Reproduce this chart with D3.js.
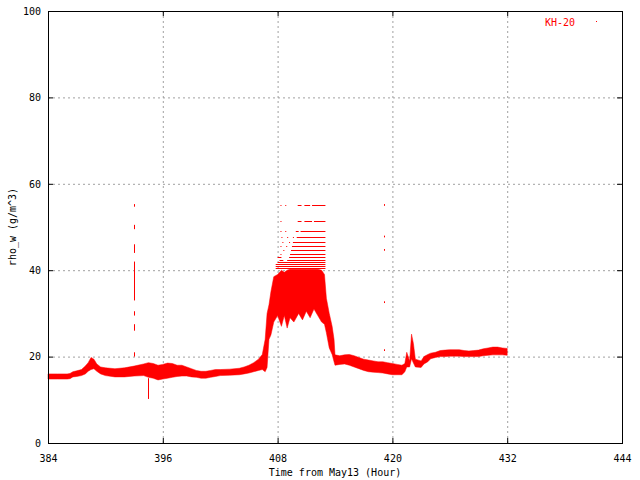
<!DOCTYPE html>
<html>
<head>
<meta charset="utf-8">
<script src="https://cdn.jsdelivr.net/npm/d3@7"></script>
<style>
  body { margin: 0; background: #fff; }
  text { font-family: "DejaVu Sans Mono", monospace; font-size: 10px; }
</style>
</head>
<body>
<div class="container"></div>
<script>
// KH-20 water vapour density
var bandTime = [384.0, 385.0, 386.0, 386.3, 386.6, 387.0, 387.5, 387.9, 388.2, 388.5, 388.8, 389.1, 389.5,
  390.0, 391.0, 392.0, 393.0, 394.0, 394.5, 395.0, 395.5, 396.0, 396.5, 397.0, 397.5, 398.0, 398.5,
  399.0, 399.5, 400.0, 400.5, 401.0, 401.5, 402.0, 403.0, 404.0, 404.5, 405.0, 405.5, 406.0, 406.4,
  406.7, 406.9, 407.1, 407.3, 407.6, 408.0, 408.4, 408.7, 409.0, 409.3, 409.7, 410.2, 410.6, 411.0,
  411.4, 411.8, 412.2, 412.6, 412.9, 413.1, 413.4, 413.7, 413.9, 414.0, 414.5, 415.0, 415.5, 416.0,
  416.5, 417.0, 417.5, 418.0, 418.5, 419.0, 419.5, 420.0, 420.5, 421.0, 421.3, 421.5, 421.8, 422.0,
  422.2, 422.4, 423.0, 423.3, 423.7, 424.0, 424.5, 425.0, 425.5, 426.0, 427.0, 427.5, 428.0, 428.5,
  429.0, 429.5, 430.0, 430.5, 431.0, 431.5, 432.0];
var bandLow = [14.8, 14.8, 14.8, 14.9, 15.3, 15.4, 15.6, 16.0, 16.6, 17.0, 17.2, 16.6, 16.0,
  15.6, 15.3, 15.3, 15.5, 15.6, 15.2, 15.0, 14.6, 14.8, 15.0, 15.2, 15.4, 15.5, 15.5,
  15.3, 15.2, 15.0, 15.0, 15.2, 15.4, 15.6, 15.7, 15.8, 16.0, 16.2, 16.5, 16.8, 17.0,
  16.5, 17.5, 24.0, 25.0, 28.0, 29.5, 27.0, 29.5, 26.6, 29.0, 28.0, 30.0, 28.5, 30.5,
  29.0, 31.0, 29.5, 28.0, 27.5, 25.5, 22.0, 20.5, 18.8, 18.0, 18.2, 18.3, 18.0, 17.6,
  17.2, 16.8, 16.5, 16.4, 16.3, 16.2, 16.0, 15.8, 15.8, 15.8, 16.5, 17.6, 17.6, 19.5,
  18.5, 17.6, 17.5, 18.3, 18.8, 19.5, 19.8, 20.0, 20.0, 20.1, 20.1, 20.0, 20.0, 20.0,
  20.0, 20.2, 20.3, 20.4, 20.4, 20.4, 20.3];
var bandHigh = [16.0, 16.0, 16.0, 16.1, 16.5, 16.7, 17.0, 17.8, 18.6, 19.8, 19.4, 18.3, 17.6,
  17.4, 17.2, 17.4, 17.8, 18.3, 18.6, 18.4, 18.0, 18.2, 18.5, 18.4, 18.0, 18.0, 17.6,
  17.2, 16.8, 16.6, 16.6, 16.8, 17.0, 17.0, 17.1, 17.3, 17.6, 18.0, 18.6, 19.4, 20.5,
  24.0, 30.0, 32.0, 35.0, 38.5, 39.0, 40.0, 39.5, 40.0, 40.2, 40.2, 40.2, 40.2, 40.2,
  40.2, 40.2, 40.2, 40.0, 39.0, 33.5, 30.0, 27.0, 24.0, 20.4, 20.2, 20.4, 20.5, 20.2,
  19.8, 19.4, 19.2, 19.0, 18.8, 18.8, 18.6, 18.4, 18.2, 18.0, 18.4, 21.0, 19.0, 25.2,
  23.0, 19.4, 19.0, 20.0, 20.5, 20.8, 21.0, 21.4, 21.5, 21.6, 21.6, 21.4, 21.3, 21.4,
  21.5, 21.8, 22.0, 22.2, 22.2, 22.0, 21.9];

// quantised outliers during the 408-413 h event (level, from, to)
var dashLevel = [55.1, 55.1, 55.1, 55.1, 55.1, 51.3, 51.3, 51.3, 51.3, 49.0, 49.0, 49.0, 49.0,
  47.7, 47.7, 47.7, 47.7, 46.5, 46.5, 46.5, 45.5, 45.5, 45.5, 44.6, 44.6, 43.8, 43.8,
  43.1, 43.1, 42.4, 42.4, 41.9, 41.4, 40.9, 40.4];
var dashFrom = [408.3, 408.8, 410.1, 410.8, 411.6, 408.3, 410.1, 410.8, 411.8, 408.3, 408.8, 409.9, 410.4,
  408.4, 409.0, 409.6, 410.0, 408.5, 409.2, 409.6, 408.3, 408.9, 409.5, 408.6, 409.4, 408.3, 409.3,
  408.0, 409.2, 408.2, 409.0, 408.0, 407.8, 407.8, 407.8];
var dashTo = [408.3, 408.8, 410.5, 411.4, 413.0, 408.3, 410.5, 411.6, 413.0, 408.3, 408.8, 410.2, 413.0,
  408.4, 409.0, 409.6, 413.0, 408.5, 409.2, 413.0, 408.3, 408.9, 413.0, 408.6, 413.0, 408.3, 413.0,
  408.4, 413.0, 408.6, 413.0, 413.0, 413.0, 413.0, 413.0];

// isolated vertical spikes (time, from, to)
var spikeTime = [393.0, 393.0, 393.0, 393.0, 393.0, 393.0, 393.0, 394.5,
  419.1, 419.1, 419.1, 419.1, 419.1];
var spikeLow = [20.0, 26.0, 29.5, 33.0, 44.0, 49.5, 54.7, 10.2, 21.3, 32.4, 44.5, 47.6, 54.9];
var spikeHigh = [21.0, 27.5, 30.5, 42.0, 46.0, 50.5, 55.3, 15.0, 21.7, 32.8, 44.9, 48.0, 55.3];

var xTicks = [384, 396, 408, 420, 432, 444];
var yTicks = [0, 20, 40, 60, 80, 100];

var width = 640, height = 480,
  margin = {top: 11, right: 18, bottom: 37, left: 48},
  red = '#ff0000';

var x = d3.scaleLinear().domain([384, 444]).range([margin.left, width - margin.right]);
var y = d3.scaleLinear().domain([0, 100]).range([height - margin.bottom, margin.top]);

var svg = d3.select('.container').append('svg')
  .attr('width', width)
  .attr('height', height);

// grid
svg.append('g').selectAll('line')
  .data(xTicks.slice(1, -1)).enter()
  .append('line')
  .attr('x1', d => x(d) + 0.5).attr('x2', d => x(d) + 0.5)
  .attr('y1', margin.top).attr('y2', height - margin.bottom)
  .attr('stroke', '#a0a0a0').attr('stroke-dasharray', '2,3');
svg.append('g').selectAll('line')
  .data(yTicks.slice(1, -1)).enter()
  .append('line')
  .attr('x1', margin.left).attr('x2', width - margin.right)
  .attr('y1', d => y(d) + 0.5).attr('y2', d => y(d) + 0.5)
  .attr('stroke', '#a0a0a0').attr('stroke-dasharray', '2,3');

// data
var area = d3.area()
  .x((d, i) => x(bandTime[i]))
  .y0((d, i) => y(bandLow[i]))
  .y1((d, i) => y(bandHigh[i]));
svg.append('path')
  .attr('d', area(bandTime))
  .attr('fill', red)
  .attr('stroke', red)
  .attr('stroke-width', 0.5);

svg.append('g').selectAll('rect')
  .data(dashLevel).enter()
  .append('rect')
  .attr('x', (d, i) => x(dashFrom[i]))
  .attr('width', (d, i) => Math.max(1, x(dashTo[i]) - x(dashFrom[i])))
  .attr('y', d => Math.round(y(d)))
  .attr('height', 1)
  .attr('fill', red);

svg.append('g').selectAll('rect')
  .data(spikeTime).enter()
  .append('rect')
  .attr('x', d => Math.round(x(d)))
  .attr('width', 1)
  .attr('y', (d, i) => y(spikeHigh[i]))
  .attr('height', (d, i) => Math.max(1, y(spikeLow[i]) - y(spikeHigh[i])))
  .attr('fill', red);

// axes, gnuplot style: inward ticks on all four sides
var ax = svg.append('g').attr('transform', 'translate(0,' + (height - margin.bottom) + ')')
  .call(d3.axisBottom(x).tickValues(xTicks).tickSize(-5).tickPadding(12).tickFormat(d3.format('d')));
var axTop = svg.append('g').attr('transform', 'translate(0,' + margin.top + ')')
  .call(d3.axisTop(x).tickValues(xTicks).tickSize(-5).tickFormat(''));
var ay = svg.append('g').attr('transform', 'translate(' + margin.left + ',0)')
  .call(d3.axisLeft(y).tickValues(yTicks).tickSize(-5).tickPadding(12).tickFormat(d3.format('d')));
var ayRight = svg.append('g').attr('transform', 'translate(' + (width - margin.right) + ',0)')
  .call(d3.axisRight(y).tickValues(yTicks).tickSize(-5).tickFormat(''));
[ax, axTop, ay, ayRight].forEach(function(g) {
  g.select('.domain').remove();
  g.selectAll('line').attr('stroke', '#000');
  g.selectAll('text').attr('fill', '#000').style('font-family', '"DejaVu Sans Mono", monospace').style('font-size', '10px');
});
ay.selectAll('text').attr('x', -7);

svg.append('rect')
  .attr('x', margin.left + 0.5).attr('y', margin.top + 0.5)
  .attr('width', width - margin.left - margin.right)
  .attr('height', height - margin.top - margin.bottom)
  .attr('fill', 'none').attr('stroke', '#000');

// labels
svg.append('text')
  .attr('x', (margin.left + width - margin.right) / 2)
  .attr('y', 476)
  .attr('text-anchor', 'middle')
  .text('Time from May13 (Hour)');
svg.append('text')
  .attr('transform', 'translate(16,' + (margin.top + height - margin.bottom) / 2 + ') rotate(-90)')
  .attr('text-anchor', 'middle')
  .text('rho_w (g/m^3)');

// legend
svg.append('text')
  .attr('x', 575).attr('y', 26)
  .attr('text-anchor', 'end')
  .attr('fill', red)
  .text('KH-20');
svg.append('rect')
  .attr('x', 596).attr('y', 21).attr('width', 1).attr('height', 1)
  .attr('fill', red);
</script>
</body>
</html>
